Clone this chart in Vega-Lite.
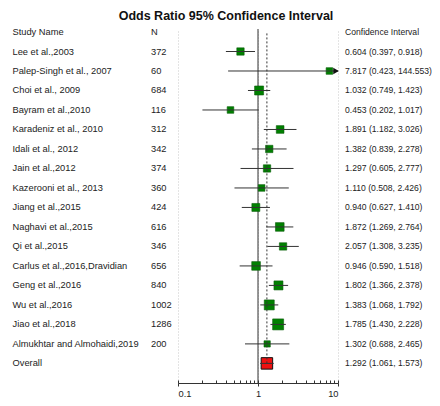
{
  "$schema": "https://vega.github.io/schema/vega-lite/v6.json",
  "padding": {"left": 12, "top": 9, "right": 0, "bottom": 0},
  "title": {"text": "Odds Ratio 95% Confidence Interval", "font": "Liberation Sans", "fontSize": 12.5, "fontWeight": "bold", "color": "#111", "anchor": "middle", "offset": 6},
  "config": {
    "view": {"stroke": null},
    "text": {"font": "Liberation Sans", "fontSize": 9.3, "color": "#222", "align": "left", "baseline": "middle"},
    "axis": {"labelFont": "Liberation Sans", "labelFontSize": 9.3, "labelColor": "#222", "domainColor": "#333", "tickColor": "#333", "title": null}
  },
  "data": {"values": [
    {"study": "Study Name", "n": "N", "ci": "Confidence Interval"},
    {"study": "Lee et al.,2003", "n": "372", "or": 0.604, "lo": 0.397, "hi": 0.918, "weight": 5.2, "ci": "0.604 (0.397, 0.918)"},
    {"study": "Palep-Singh et al., 2007", "n": "60", "or": 7.817, "lo": 0.423, "hi": 144.553, "weight": 4.2, "ci": "7.817 (0.423, 144.553)"},
    {"study": "Choi et al., 2009", "n": "684", "or": 1.032, "lo": 0.749, "hi": 1.423, "weight": 7.8, "ci": "1.032 (0.749, 1.423)"},
    {"study": "Bayram et al.,2010", "n": "116", "or": 0.453, "lo": 0.202, "hi": 1.017, "weight": 4.2, "ci": "0.453 (0.202, 1.017)"},
    {"study": "Karadeniz et al., 2010", "n": "312", "or": 1.891, "lo": 1.182, "hi": 3.026, "weight": 5.7, "ci": "1.891 (1.182, 3.026)"},
    {"study": "Idali et al., 2012", "n": "342", "or": 1.382, "lo": 0.839, "hi": 2.278, "weight": 5.2, "ci": "1.382 (0.839, 2.278)"},
    {"study": "Jain et al.,2012", "n": "374", "or": 1.297, "lo": 0.605, "hi": 2.777, "weight": 5.2, "ci": "1.297 (0.605, 2.777)"},
    {"study": "Kazerooni et al., 2013", "n": "360", "or": 1.110, "lo": 0.508, "hi": 2.426, "weight": 4.2, "ci": "1.110 (0.508, 2.426)"},
    {"study": "Jiang et al.,2015", "n": "424", "or": 0.940, "lo": 0.627, "hi": 1.410, "weight": 6.1, "ci": "0.940 (0.627, 1.410)"},
    {"study": "Naghavi et al.,2015", "n": "616", "or": 1.872, "lo": 1.269, "hi": 2.764, "weight": 7.2, "ci": "1.872 (1.269, 2.764)"},
    {"study": "Qi et al.,2015", "n": "346", "or": 2.057, "lo": 1.308, "hi": 3.235, "weight": 5.2, "ci": "2.057 (1.308, 3.235)"},
    {"study": "Carlus et al.,2016,Dravidian", "n": "656", "or": 0.946, "lo": 0.590, "hi": 1.518, "weight": 7.2, "ci": "0.946 (0.590, 1.518)"},
    {"study": "Geng et al.,2016", "n": "840", "or": 1.802, "lo": 1.366, "hi": 2.378, "weight": 7.8, "ci": "1.802 (1.366, 2.378)"},
    {"study": "Wu et al.,2016", "n": "1002", "or": 1.383, "lo": 1.068, "hi": 1.792, "weight": 9.6, "ci": "1.383 (1.068, 1.792)"},
    {"study": "Jiao et al.,2018", "n": "1286", "or": 1.785, "lo": 1.430, "hi": 2.228, "weight": 11.6, "ci": "1.785 (1.430, 2.228)"},
    {"study": "Almukhtar and Almohaidi,2019", "n": "200", "or": 1.302, "lo": 0.688, "hi": 2.465, "weight": 3.8, "ci": "1.302 (0.688, 2.465)"},
    {"study": "Overall", "n": "", "or": 1.292, "lo": 1.061, "hi": 1.573, "ci": "1.292 (1.061, 1.573)"}
  ]},
  "spacing": 0,
  "bounds": "flush",
  "hconcat": [
    {
      "width": 138, "height": 354,
      "mark": {"type": "text", "dx": 0.5},
      "encoding": {
        "x": {"datum": 0, "type": "quantitative", "scale": {"domain": [0, 1]}, "axis": null},
        "y": {"field": "study", "type": "nominal", "sort": null, "scale": {"type": "point", "padding": 0.58, "align": 0.133}, "axis": null},
        "text": {"field": "study"}
      }
    },
    {
      "width": 28, "height": 354,
      "mark": {"type": "text", "dx": 1},
      "encoding": {
        "x": {"datum": 0, "type": "quantitative", "scale": {"domain": [0, 1]}, "axis": null},
        "y": {"field": "study", "type": "nominal", "sort": null, "scale": {"type": "point", "padding": 0.58, "align": 0.133}, "axis": null},
        "text": {"field": "n"}
      }
    },
    {
      "width": 160, "height": 354,
      "resolve": {"axis": {"x": "independent"}},
      "layer": [
        {
          "transform": [{"filter": "datum.study === 'Overall'"}],
          "mark": {"type": "rule", "color": "#333", "strokeWidth": 1},
          "encoding": {
            "x": {"datum": 1, "type": "quantitative", "scale": {"type": "log", "domain": [0.1, 10], "clamp": true, "nice": false},
              "axis": {"orient": "bottom", "values": [0.1, 1, 10], "format": "~g", "tickSize": 3, "domain": false, "grid": true, "gridColor": "#c8c8c8", "gridDash": [1, 2], "labelPadding": 3}}
          }
        },
        {
          "transform": [{"filter": "datum.study !== 'Overall'"}],
          "mark": {"type": "square", "filled": true, "color": "#008000", "stroke": "#0a5c0a", "strokeWidth": 0.6, "opacity": 1},
          "encoding": {
            "x": {"field": "or", "type": "quantitative", "scale": {"type": "log", "domain": [0.1, 10], "clamp": true, "nice": false}, "axis": null},
            "y": {"field": "study", "type": "nominal", "sort": null, "scale": {"type": "point", "padding": 0.58, "align": 0.133, "domain": ["Study Name", "Lee et al.,2003", "Palep-Singh et al., 2007", "Choi et al., 2009", "Bayram et al.,2010", "Karadeniz et al., 2010", "Idali et al., 2012", "Jain et al.,2012", "Kazerooni et al., 2013", "Jiang et al.,2015", "Naghavi et al.,2015", "Qi et al.,2015", "Carlus et al.,2016,Dravidian", "Geng et al.,2016", "Wu et al.,2016", "Jiao et al.,2018", "Almukhtar and Almohaidi,2019", "Overall"]}, "axis": null},
            "size": {"field": "weight", "type": "quantitative", "scale": {"type": "linear", "domain": [0, 10], "range": [0, 104]}, "legend": null}
          }
        },
        {
          "transform": [{"filter": "datum.study === 'Overall'"}],
          "mark": {"type": "square", "filled": true, "color": "#ee1111", "stroke": "#111", "strokeWidth": 1, "size": 132, "opacity": 1},
          "encoding": {
            "x": {"field": "or", "type": "quantitative", "scale": {"type": "log", "domain": [0.1, 10], "clamp": true, "nice": false}, "axis": null},
            "y": {"field": "study", "type": "nominal", "sort": null, "axis": null}
          }
        },
        {
          "mark": {"type": "rule", "color": "#333", "strokeWidth": 1},
          "encoding": {
            "x": {"field": "lo", "type": "quantitative", "scale": {"type": "log", "domain": [0.1, 10], "clamp": true, "nice": false},
              "axis": {"orient": "bottom", "values": [0.1, 0.2, 0.3, 0.4, 0.5, 0.6, 0.7, 0.8, 0.9, 1, 2, 3, 4, 5, 6, 7, 8, 9, 10], "labels": false, "tickSize": -3, "grid": false, "domain": true}},
            "x2": {"field": "hi"},
            "y": {"field": "study", "type": "nominal", "sort": null, "axis": null}
          }
        },
        {
          "transform": [{"filter": "datum.study === 'Overall'"}],
          "mark": {"type": "rule", "color": "#333", "strokeWidth": 1, "strokeDash": [2, 2]},
          "encoding": {
            "x": {"field": "or", "type": "quantitative", "scale": {"type": "log", "domain": [0.1, 10], "clamp": true, "nice": false}, "axis": null},
            "y": {"field": "study", "type": "nominal", "sort": null, "axis": null},
            "y2": {"datum": "Study Name"}
          }
        },
        {
          "transform": [{"filter": "datum.hi > 10"}],
          "mark": {"type": "point", "shape": "triangle-right", "filled": true, "color": "#111", "size": 40, "opacity": 1, "xOffset": -2},
          "encoding": {
            "x": {"field": "hi", "type": "quantitative", "scale": {"type": "log", "domain": [0.1, 10], "clamp": true, "nice": false}, "axis": null},
            "y": {"field": "study", "type": "nominal", "sort": null, "axis": null}
          }
        }
      ]
    },
    {
      "width": 102, "height": 354,
      "mark": {"type": "text", "dx": 7, "fontSize": 8.6},
      "encoding": {
        "x": {"datum": 0, "type": "quantitative", "scale": {"domain": [0, 1]}, "axis": null},
        "y": {"field": "study", "type": "nominal", "sort": null, "scale": {"type": "point", "padding": 0.58, "align": 0.133}, "axis": null},
        "text": {"field": "ci"}
      }
    }
  ]
}
